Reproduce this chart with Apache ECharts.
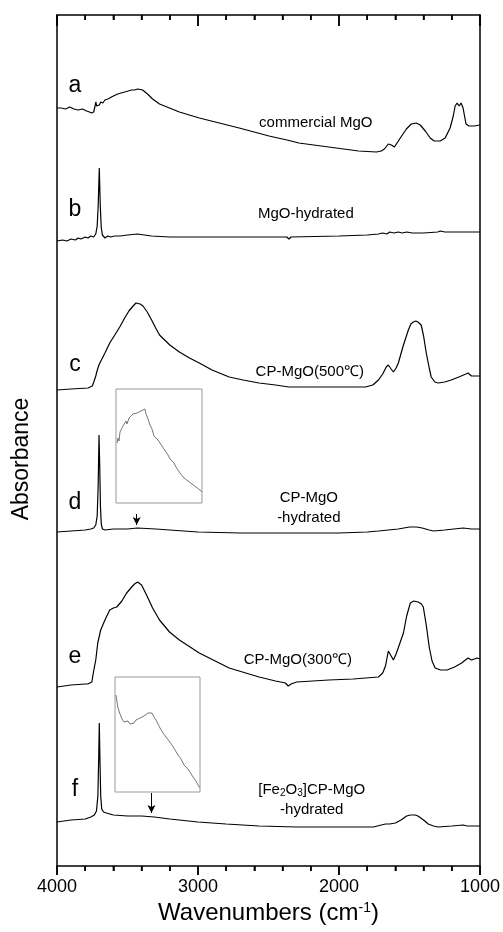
<!DOCTYPE html>
<html>
<head>
<meta charset="utf-8">
<script src="https://cdn.jsdelivr.net/npm/echarts@6/dist/echarts.min.js"></script>
<style>
  html, body { margin: 0; padding: 0; background: #fff; }
  #chart { width: 503px; height: 932px; }
</style>
</head>
<body>
<div id="chart"></div>
<script>
// wavenumber (cm-1), absorbance (arbitrary units, traces stacked)
const traceA = [[4000,758],[3970,758],[3940,757],[3910,759],[3880,757],[3850,756],[3820,757],[3790,755],[3770,754],[3755,753],[3740,754],[3730,760],[3725,764],[3718,760],[3711,762],[3700,761],[3690,764],[3675,763],[3660,766],[3640,767],[3626,769],[3600,770],[3569,772],[3545,773],[3520,774],[3495,775],[3471,776],[3450,776],[3428,777],[3393,776],[3358,772],[3322,767],[3273,762],[3202,758],[3132,754],[2991,748],[2849,743],[2708,738],[2496,730],[2369,726],[2355,728],[2340,725],[2285,723],[2073,719],[1861,715],[1734,714],[1700,715],[1678,717],[1650,722],[1628,721],[1607,719],[1565,728],[1522,737],[1487,742],[1452,743],[1424,741],[1388,735],[1353,728],[1325,725],[1282,725],[1247,728],[1212,738],[1191,749],[1176,760],[1162,763],[1148,760],[1134,763],[1120,758],[1099,742],[1078,740],[1042,740],[1000,741]];
const traceB = [[4000,625],[3960,626],[3930,625],[3900,627],[3870,626],[3850,628],[3830,627],[3800,629],[3780,628],[3760,630],[3740,629],[3725,632],[3715,640],[3708,660],[3700,698],[3693,660],[3686,638],[3678,631],[3670,629],[3660,628],[3640,630],[3620,629],[3590,630],[3550,630],[3500,631],[3430,632],[3380,631],[3330,630],[3200,629],[3000,629],[2600,629],[2370,629],[2355,627],[2340,629],[2000,630],[1800,631],[1720,632],[1690,633],[1660,632],[1640,634],[1610,633],[1580,634],[1550,633],[1520,634],[1480,633],[1400,633],[1300,634],[1280,635],[1250,634],[1100,634],[1000,634]];
const traceC = [[4000,476],[3900,477],[3780,478],[3750,480],[3739,484],[3725,490],[3718,494],[3705,500],[3696,503],[3660,513],[3626,523],[3590,531],[3555,539],[3520,548],[3490,555],[3460,560],[3440,563],[3428,563],[3410,562],[3390,560],[3360,554],[3329,546],[3300,538],[3273,531],[3200,521],[3132,514],[3060,508],[2991,503],[2900,496],[2779,489],[2680,486],[2567,483],[2450,481],[2355,479],[2200,479],[2050,479],[1900,479],[1812,479],[1760,481],[1720,486],[1690,492],[1665,499],[1650,501],[1630,497],[1614,494],[1595,498],[1579,503],[1545,520],[1508,536],[1490,542],[1473,544],[1455,545],[1440,544],[1417,541],[1400,530],[1381,513],[1360,498],[1346,489],[1320,484],[1296,483],[1250,484],[1204,486],[1150,489],[1100,492],[1085,493],[1060,490],[1035,490],[1000,490]];
const traceD = [[4000,334],[3900,335],[3800,336],[3760,337],[3740,338],[3725,341],[3715,350],[3708,380],[3702,431],[3697,400],[3692,360],[3686,342],[3678,337],[3660,336],[3600,337],[3500,337],[3430,338],[3300,337],[3200,336],[3000,334],[2700,333],[2355,333],[2345,335],[2335,333],[2000,333],[1800,334],[1720,335],[1650,336],[1580,337],[1500,339],[1450,339],[1410,338],[1360,336],[1330,335],[1250,336],[1120,338],[1060,337],[1000,337]];
const traceE = [[4000,179],[3900,181],[3800,182],[3782,182],[3753,184],[3740,195],[3725,206],[3711,223],[3690,236],[3660,246],[3626,256],[3600,258],[3576,259],[3540,265],[3506,273],[3470,279],[3450,282],[3428,284],[3400,281],[3365,271],[3322,258],[3273,246],[3202,234],[3132,226],[2991,213],[2779,198],[2567,189],[2450,185],[2380,183],[2360,180],[2350,178],[2340,182],[2300,184],[2073,186],[1900,187],[1720,189],[1690,193],[1670,200],[1650,215],[1630,210],[1614,206],[1595,212],[1570,222],[1543,233],[1520,250],[1494,263],[1470,265],[1438,264],[1415,262],[1402,259],[1380,240],[1360,219],[1340,205],[1318,198],[1280,196],[1233,196],[1180,199],[1130,203],[1085,208],[1060,206],[1050,206],[1020,208],[1000,207]];
const traceF = [[4000,44],[3900,46],[3800,47],[3760,49],[3735,51],[3720,55],[3710,70],[3704,110],[3700,143],[3696,110],[3690,70],[3683,57],[3670,54],[3650,53],[3600,51],[3500,50],[3400,50],[3310,49],[3200,47],[3000,44],[2800,42],[2567,40],[2300,39],[2073,39],[1900,39],[1755,39],[1700,41],[1670,42],[1640,42],[1600,43],[1560,46],[1520,50],[1494,51],[1460,51],[1440,50],[1400,46],[1367,42],[1330,40],[1296,39],[1200,40],[1120,41],[1106,42],[1090,40],[1000,40]];

// insets: zoomed OH region of d and f
const insetD = [[3690,60],[3680,65],[3670,62],[3660,71],[3640,73],[3630,77],[3620,75],[3600,82],[3590,79],[3570,85],[3550,83],[3530,89],[3510,87],[3490,90],[3470,88],[3450,92],[3430,90],[3410,94],[3400,89],[3380,84],[3360,78],[3340,74],[3320,67],[3300,66],[3280,63],[3260,65],[3240,57],[3220,54],[3200,51],[3180,48],[3160,44],[3140,42],[3120,40],[3100,36],[3080,33],[3060,30],[3040,28],[3020,25],[3000,25],[2980,22],[2960,21],[2940,19],[2920,20],[2900,16],[2880,15],[2860,13],[2840,11]];
const insetF = [[3690,97],[3680,90],[3670,84],[3650,78],[3630,73],[3610,70],[3590,69],[3570,71],[3550,68],[3530,70],[3510,69],[3490,72],[3470,71],[3450,74],[3430,73],[3410,76],[3390,76],[3370,79],[3350,77],[3330,79],[3310,75],[3290,72],[3270,68],[3250,64],[3220,59],[3190,55],[3160,51],[3130,47],[3100,42],[3070,37],[3040,33],[3010,27],[2980,24],[2950,20],[2920,15],[2890,11],[2870,7],[2850,4]];

const xTicks = [1000, 2000, 3000, 4000];
const xMinorTicks = [1200, 1400, 1600, 1800, 2200, 2400, 2600, 2800, 3200, 3400, 3600, 3800];
const letters = ['a', 'b', 'c', 'd', 'e', 'f'];
const letterY = [780, 656, 501, 363, 209, 76];
const letterX = 3873;
const sampleNames = ['commercial MgO', 'MgO-hydrated', 'CP-MgO(500℃)', 'CP-MgO\n-hydrated', 'CP-MgO(300℃)', '[Fe{sub|2}O{sub|3}]CP-MgO\n-hydrated'];
const sampleX = [2165, 2235, 2207, 2214, 2292, 2193];
const sampleY = [743, 652, 494, 358, 206, 66];
// arrows pointing at the OH band: [wavenumber, from, to]
const arrowD = [3435, 352, 341];
const arrowF = [3330, 73, 53];

const Y_MAX = 851;
const FONT = '"Liberation Sans", Arial, sans-serif';
const dom = document.getElementById('chart');
const chart = echarts.init(dom, null, { renderer: 'canvas' });

function line(data, xi, yi, color, width) {
  return {
    type: 'line', data: data, xAxisIndex: xi, yAxisIndex: yi,
    showSymbol: false, symbol: 'none', silent: true,
    lineStyle: { color: color, width: width }
  };
}

function arrow(a) {
  return {
    silent: true, symbol: ['none', 'arrow'], symbolSize: [6, 8],
    label: { show: false },
    lineStyle: { color: '#000', width: 1, type: 'solid' },
    data: [[{ coord: [a[0], a[1]] }, { coord: [a[0], a[2]] }]]
  };
}

// frame tick marks as broken line segments: bottom ones outward, top ones inward
function tickSegments(values, bottomLen, topLen) {
  const out = [];
  values.forEach((v) => {
    out.push([v, 0], [v, -bottomLen], [v, null]);
    out.push([v, Y_MAX], [v, Y_MAX - topLen], [v, null]);
  });
  return out;
}
const tickLines = {
  type: 'line', xAxisIndex: 0, yAxisIndex: 0, silent: true, clip: false, z: 5,
  showSymbol: false, symbol: 'none', connectNulls: false,
  lineStyle: { color: '#000', width: 1.5 },
  data: tickSegments(xTicks, 9, 11).concat(tickSegments(xMinorTicks, 5, 5))
};

function frameX(pos, inside, majorLen) {
  return {
    type: 'value', gridIndex: 0, position: pos, inverse: true,
    min: xTicks[0], max: xTicks[xTicks.length - 1], interval: 1000,
    axisLine: { show: true, onZero: false, lineStyle: { color: '#000', width: 1.5 } },
    axisTick: { show: true, inside: inside, length: majorLen, lineStyle: { color: '#000', width: 1.5 } },
    minorTick: { show: true, splitNumber: 5, length: 5, lineStyle: { color: '#000', width: 1.5 } },
    axisLabel: { show: false },
    splitLine: { show: false }
  };
}

function frameY(pos) {
  return {
    type: 'value', gridIndex: 0, position: pos, min: 0, max: Y_MAX,
    axisLine: { show: true, onZero: false, lineStyle: { color: '#000', width: 1.5 } },
    axisTick: { show: false }, axisLabel: { show: false }, splitLine: { show: false }
  };
}

const bottomAxis = frameX('bottom', false, 9);
bottomAxis.axisLabel = { show: true, color: '#000', fontSize: 18, fontFamily: FONT, margin: 12, formatter: (v) => String(v) };
bottomAxis.name = 'Wavenumbers (cm{sup|-1})';
bottomAxis.nameLocation = 'middle';
bottomAxis.nameGap = 30;
bottomAxis.nameTextStyle = {
  color: '#000', fontSize: 24, fontFamily: FONT,
  rich: { sup: { fontSize: 14, fontFamily: FONT, color: '#000', padding: [0, 0, 11, 0] } }
};
const topAxis = frameX('top', true, 11);

const seriesD = line(traceD, 0, 0, '#000', 1.2);
seriesD.markLine = arrow(arrowD);
const seriesF = line(traceF, 0, 0, '#000', 1.2);
seriesF.markLine = arrow(arrowF);

const option = {
  backgroundColor: '#fff',
  animation: false,
  grid: [
    { left: 57, right: 21, top: 15, bottom: 66 },
    { left: 116, top: 389, width: 86, height: 114, show: true, borderColor: '#999', borderWidth: 1 },
    { left: 115, top: 677, width: 85, height: 115, show: true, borderColor: '#999', borderWidth: 1 }
  ],
  xAxis: [
    bottomAxis,
    topAxis,
    { type: 'value', gridIndex: 1, show: false, inverse: true, min: 2840, max: 3700, splitLine: { show: false } },
    { type: 'value', gridIndex: 2, show: false, inverse: true, min: 2850, max: 3700, splitLine: { show: false } }
  ],
  yAxis: [
    frameY('left'),
    frameY('right'),
    { type: 'value', gridIndex: 1, show: false, min: 0, max: 114, splitLine: { show: false } },
    { type: 'value', gridIndex: 2, show: false, min: 0, max: 115, splitLine: { show: false } }
  ],
  series: [
    line(traceA, 0, 0, '#000', 1.2),
    line(traceB, 0, 0, '#000', 1.2),
    line(traceC, 0, 0, '#000', 1.2),
    seriesD,
    line(traceE, 0, 0, '#000', 1.2),
    seriesF,
    line(insetD, 2, 2, '#777', 1),
    line(insetF, 3, 3, '#777', 1),
    tickLines
  ]
};

chart.setOption(option);

// text annotations placed through the main grid's scales
const graphic = [{
  type: 'text', x: 22, y: 459, rotation: Math.PI / 2,
  style: { text: 'Absorbance', fill: '#000', fontSize: 23, fontFamily: FONT, align: 'center', verticalAlign: 'middle' }
}];
letters.forEach((t, i) => {
  const p = chart.convertToPixel({ xAxisIndex: 0, yAxisIndex: 0 }, [letterX, letterY[i]]);
  graphic.push({
    type: 'text', x: p[0], y: p[1],
    style: { text: t, fill: '#000', fontSize: 23, fontFamily: FONT, align: 'center', verticalAlign: 'middle' }
  });
});
sampleNames.forEach((t, i) => {
  const p = chart.convertToPixel({ xAxisIndex: 0, yAxisIndex: 0 }, [sampleX[i], sampleY[i]]);
  graphic.push({
    type: 'text', x: p[0], y: p[1],
    style: {
      text: t, fill: '#000', fontSize: 15, fontFamily: FONT, align: 'center', verticalAlign: 'middle', lineHeight: 20,
      rich: { sub: { fontSize: 10, fontFamily: FONT, fill: '#000', padding: [7, 0, 0, 0] } }
    }
  });
});
chart.setOption({ graphic: graphic });
</script>
</body>
</html>
